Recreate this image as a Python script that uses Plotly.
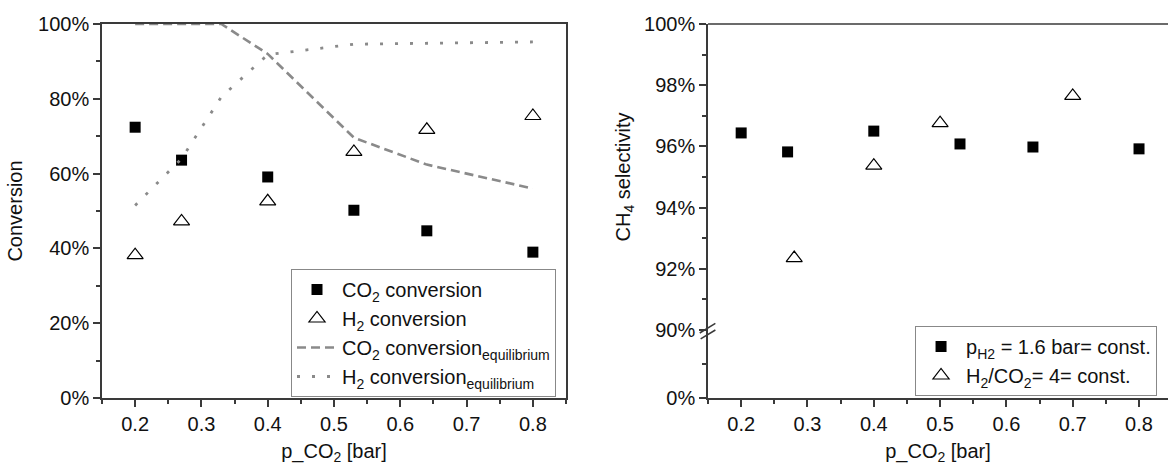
import plotly.graph_objects as go

# ---------------- data ----------------
x_pts = [0.2, 0.27, 0.4, 0.53, 0.64, 0.8]
co2_conv = [72.4, 63.6, 59.1, 50.2, 44.7, 39.0]
x_h2 = [0.2, 0.27, 0.4, 0.53, 0.64, 0.8]
h2_conv = [38.2, 47.2, 52.6, 65.8, 71.7, 75.4]

x_eq = [0.2, 0.27, 0.33, 0.4, 0.53, 0.64, 0.8]
co2_eq = [100.0, 100.0, 100.0, 92.0, 69.6, 62.4, 56.0]
h2_eq = [51.5, 64.0, 80.5, 91.8, 94.6, 94.9, 95.2]

x_sel_p = [0.2, 0.27, 0.4, 0.53, 0.64, 0.8]
sel_p = [96.44, 95.82, 96.50, 96.08, 95.98, 95.92]
x_sel_r = [0.28, 0.4, 0.5, 0.7]
sel_r = [92.35, 95.37, 96.76, 97.65]

x_ticks = [0.2, 0.3, 0.4, 0.5, 0.6, 0.7, 0.8]
x_ticktext = ["0.2", "0.3", "0.4", "0.5", "0.6", "0.7", "0.8"]

# ---------------- style ----------------
FONT = "Liberation Sans, Arial, sans-serif"
AX = "#3a3a3a"
LINEC = "#8a8a8a"
FS = 20
TICKF = dict(family=FONT, size=FS, color="#111")

fig = go.Figure()

fig.add_trace(go.Scatter(x=x_pts, y=co2_conv, mode="markers", name="CO<sub>2</sub> conversion",
                         marker=dict(symbol="square", size=11, color="black"),
                         xaxis="x", yaxis="y", legend="legend"))
fig.add_trace(go.Scatter(x=x_h2, y=h2_conv, mode="markers", name="H<sub>2</sub> conversion",
                         marker=dict(symbol="triangle-up-open", size=14, color="black",
                                     line=dict(width=1.2, color="black")),
                         xaxis="x", yaxis="y", legend="legend"))
fig.add_trace(go.Scatter(x=x_eq, y=co2_eq, mode="lines", name="CO<sub>2</sub> conversion<sub>equilibrium</sub>",
                         line=dict(color=LINEC, width=2.6, dash="9px,5px"),
                         xaxis="x", yaxis="y", legend="legend"))
fig.add_trace(go.Scatter(x=x_eq, y=h2_eq, mode="lines", name="H<sub>2</sub> conversion<sub>equilibrium</sub>",
                         line=dict(color=LINEC, width=2.8, dash="3px,12px"),
                         xaxis="x", yaxis="y", legend="legend"))

fig.add_trace(go.Scatter(x=x_sel_p, y=sel_p, mode="markers", name="p<sub>H2</sub> = 1.6 bar= const.",
                         marker=dict(symbol="square", size=11, color="black"),
                         xaxis="x2", yaxis="y2", legend="legend2"))
fig.add_trace(go.Scatter(x=x_sel_r, y=sel_r, mode="markers", name="H<sub>2</sub>/CO<sub>2</sub>= 4= const.",
                         marker=dict(symbol="triangle-up-open", size=14, color="black",
                                     line=dict(width=1.2, color="black")),
                         xaxis="x2", yaxis="y2", legend="legend2"))
# empty trace so the lower (broken) axis segment is drawn
fig.add_trace(go.Scatter(x=[None], y=[None], mode="markers", showlegend=False, hoverinfo="skip",
                         xaxis="x2", yaxis="y3"))

common_x = dict(range=[0.15, 0.85], tickvals=x_ticks, ticktext=x_ticktext, ticks="outside",
                ticklen=7, tickwidth=1.5, tickcolor=AX, showline=True, linecolor=AX, linewidth=1.5,
                showgrid=False, zeroline=False, tickfont=TICKF,
                minor=dict(tickvals=[0.15, 0.25, 0.35, 0.45, 0.55, 0.65, 0.75, 0.85],
                           ticks="outside", ticklen=4, tickwidth=1.5, tickcolor=AX))

ydom_split = (398 - 330) / 374.0

fig.update_layout(
    width=1168, height=468,
    margin=dict(l=102, r=0, t=24, b=70),
    paper_bgcolor="white", plot_bgcolor="white",
    font=dict(family=FONT, size=FS, color="#111"),
    xaxis=dict(common_x, domain=[0, 0.4353], anchor="y", mirror=True,
               title=dict(text="p_CO<sub>2</sub> [bar]", font=dict(family=FONT, size=FS), standoff=10)),
    yaxis=dict(range=[0, 100], tickvals=[0, 20, 40, 60, 80, 100],
               ticktext=["0%", "20%", "40%", "60%", "80%", "100%"], ticks="outside",
               ticklen=7, tickwidth=1.5, tickcolor=AX, showline=True, linecolor=AX, linewidth=1.5,
               mirror=True, showgrid=False, zeroline=False, tickfont=TICKF, anchor="x",
               minor=dict(tickvals=[10, 30, 50, 70, 90], ticks="outside", ticklen=4, tickwidth=1.5,
                          tickcolor=AX),
               title=dict(text="Conversion", font=dict(family=FONT, size=FS), standoff=10)),
    xaxis2=dict(common_x, range=[0.15, 0.8437], domain=[0.5685, 1], anchor="y3",
                title=dict(text="p_CO<sub>2</sub> [bar]", font=dict(family=FONT, size=FS), standoff=10)),
    yaxis2=dict(range=[90, 100], domain=[ydom_split, 1], anchor="x2",
                tickvals=[90, 92, 94, 96, 98, 100],
                ticktext=["90%", "92%", "94%", "96%", "98%", "100%"], ticks="outside",
                ticklen=7, tickwidth=1.5, tickcolor=AX, showline=True, linecolor=AX, linewidth=1.5,
                showgrid=False, zeroline=False, tickfont=TICKF,
                minor=dict(tickvals=[91, 93, 95, 97, 99], ticks="outside", ticklen=4, tickwidth=1.5,
                           tickcolor=AX),
                title=dict(text="CH<sub>4</sub> selectivity", font=dict(family=FONT, size=FS), standoff=8)),
    yaxis3=dict(range=[0, 90], domain=[0, ydom_split], anchor="x2",
                tickvals=[0], ticktext=["0%"], ticks="outside",
                ticklen=7, tickwidth=1.5, tickcolor=AX, showline=True, linecolor=AX, linewidth=1.5,
                showgrid=False, zeroline=False, tickfont=TICKF,
                minor=dict(tickvals=[45], ticks="outside", ticklen=4, tickwidth=1.5, tickcolor=AX)),
    legend=dict(x=0.1773, y=0.3449, xanchor="left", yanchor="top", bgcolor="white",
                bordercolor="#888", borderwidth=1, font=dict(family=FONT, size=FS, color="#111"),
                tracegroupgap=0, itemwidth=40),
    legend2=dict(x=0.7627, y=0.1925, xanchor="left", yanchor="top", bgcolor="white",
                 bordercolor="#888", borderwidth=1, font=dict(family=FONT, size=FS, color="#111"),
                 itemwidth=40),
    showlegend=True,
)

# top frame line of the right panel
fig.add_shape(type="line", xref="x2 domain", yref="y2 domain", x0=0, x1=1, y0=1, y1=1,
              line=dict(color=AX, width=1.5))
# axis break marks
fig.add_shape(type="line", xref="x2 domain", yref="paper", x0=-0.018, x1=0.016,
              y0=ydom_split - 0.008, y1=ydom_split + 0.018, line=dict(color=AX, width=1.5))
fig.add_shape(type="line", xref="x2 domain", yref="paper", x0=-0.016, x1=0.016,
              y0=ydom_split - 0.024, y1=ydom_split + 0.0, line=dict(color=AX, width=1.5))

fig.write_html("out.html")
